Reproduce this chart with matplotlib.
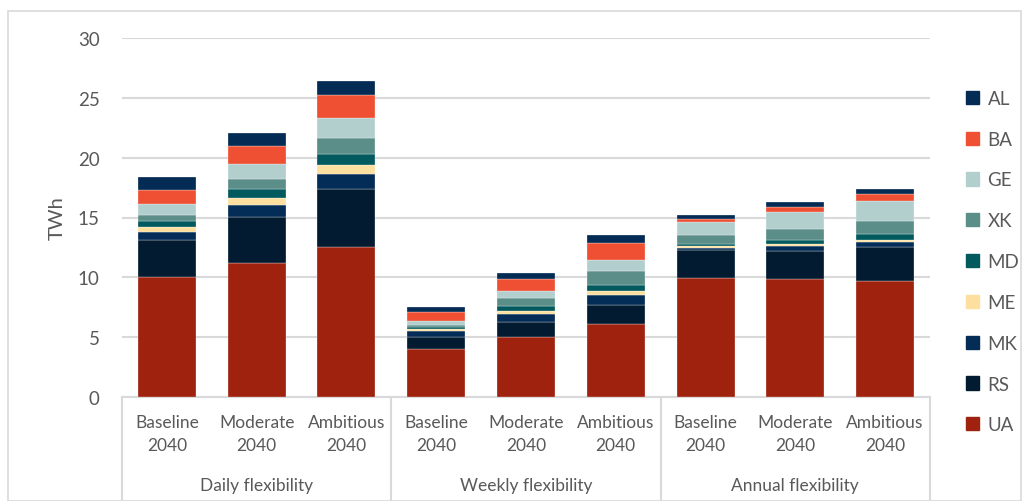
import matplotlib
matplotlib.use("Agg")
import matplotlib.pyplot as plt
from matplotlib.patches import Rectangle
from matplotlib.lines import Line2D
import numpy as np

plt.rcParams['font.family'] = ['Lato', 'DejaVu Sans']

groups = ["Daily flexibility", "Weekly flexibility", "Annual flexibility"]
scenarios = ["Baseline\n2040", "Moderate\n2040", "Ambitious\n2040"]

# stacked from bottom to top
countries = ["UA", "RS", "MK", "ME", "MD", "XK", "GE", "BA", "AL"]
colors = {
    "UA": "#9E220E",
    "RS": "#021B31",
    "MK": "#032C56",
    "ME": "#FDDF9F",
    "MD": "#035A5E",
    "XK": "#5C8E89",
    "GE": "#B3CFCD",
    "BA": "#EF5034",
    "AL": "#032B53",
}

# TWh per country, order: Daily B/M/A, Weekly B/M/A, Annual B/M/A
UA = [10.05, 11.22, 12.50, 4.01, 5.01, 6.07, 9.98, 9.90, 9.67]
RS = [3.05, 3.84, 4.85, 1.00, 1.26, 1.59, 2.34, 2.34, 2.85]
MK = [0.68, 1.01, 1.25, 0.50, 0.69, 0.89, 0.11, 0.36, 0.45]
ME = [0.42, 0.55, 0.81, 0.20, 0.22, 0.31, 0.17, 0.16, 0.19]
MD = [0.47, 0.73, 0.86, 0.14, 0.40, 0.50, 0.17, 0.39, 0.47]
XK = [0.50, 0.89, 1.39, 0.14, 0.67, 1.17, 0.75, 0.85, 1.11]
GE = [0.95, 1.26, 1.67, 0.39, 0.58, 0.89, 1.08, 1.48, 1.61]
BA = [1.21, 1.50, 1.92, 0.72, 1.00, 1.45, 0.30, 0.42, 0.58]
AL = [1.02, 1.08, 1.17, 0.39, 0.50, 0.66, 0.28, 0.37, 0.42]

series = {"UA": UA, "RS": RS, "MK": MK, "ME": ME, "MD": MD,
          "XK": XK, "GE": GE, "BA": BA, "AL": AL}

W, H = 1028, 502
fig = plt.figure(figsize=(W / 100, H / 100), dpi=100)
text_col = "#595959"
grid_col = "#D9D9D9"

# outer frame
fig.patches.append(Rectangle((8 / W, 0), (1021 - 8) / W, (H - 12) / H,
                             transform=fig.transFigure, fill=False,
                             edgecolor="#D9D9D9", linewidth=1.2))

x_left, x_right, y_top, y_bot = 122, 930, 39, 398
ax = fig.add_axes([x_left / W, (H - y_bot) / H, (x_right - x_left) / W, (y_bot - y_top) / H])

n = len(UA)
x = np.arange(n)
bottom = np.zeros(n)
for c in countries:
    vals = np.array(series[c])
    ax.bar(x, vals, bottom=bottom, width=0.645, color=colors[c],
           edgecolor="white", linewidth=0.2, label=c, zorder=3)
    bottom += vals

ax.set_xlim(-0.5, n - 0.5)
ax.set_ylim(0, 30)
ax.set_yticks(range(0, 31, 5))
ax.yaxis.grid(True, color=grid_col, linewidth=1.5, zorder=0)
ax.tick_params(axis="y", length=0, pad=16, labelsize=13.5, labelcolor=text_col)
ax.tick_params(axis="x", length=0, labelbottom=False)
for s in ["top", "right", "left"]:
    ax.spines[s].set_visible(False)
ax.spines["bottom"].set_color(grid_col)
ax.spines["bottom"].set_linewidth(1.5)
ax.set_ylabel("TWh", fontsize=14.5, color=text_col, labelpad=9)

# two-level category axis
h_px = y_bot - y_top
xt = ax.get_xaxis_transform()
for i in range(n):
    top_line, bottom_line = scenarios[i % 3].split("\n")
    ax.text(x[i], -(423 - y_bot) / h_px, top_line,
            transform=xt, ha="center", va="center", fontsize=12.5,
            color=text_col, clip_on=False)
    ax.text(x[i], -(446 - y_bot) / h_px, bottom_line,
            transform=xt, ha="center", va="center", fontsize=12.5,
            color=text_col, clip_on=False)
for g, name in enumerate(groups):
    ax.text(3 * g + 1, -(486 - y_bot) / h_px, name, transform=xt,
            ha="center", va="center", fontsize=12.5, color=text_col, clip_on=False)
for b in [-0.5, 2.5, 5.5, 8.5]:
    ax.add_line(Line2D([b, b], [0, -(H - y_bot + 5) / h_px], transform=xt,
                       color=grid_col, linewidth=1.5, clip_on=False))

# legend, top to bottom
handles = [Rectangle((0, 0), 1, 1, color=colors[c]) for c in countries[::-1]]
fig.legend(handles, countries[::-1], loc="upper left",
           bbox_to_anchor=(949 / W, (H - 74) / H), frameon=False,
           fontsize=13.5, labelcolor=text_col, handlelength=0.7,
           handleheight=0.7, handletextpad=0.45, labelspacing=1.27)

fig.savefig("out.png", dpi=100)
